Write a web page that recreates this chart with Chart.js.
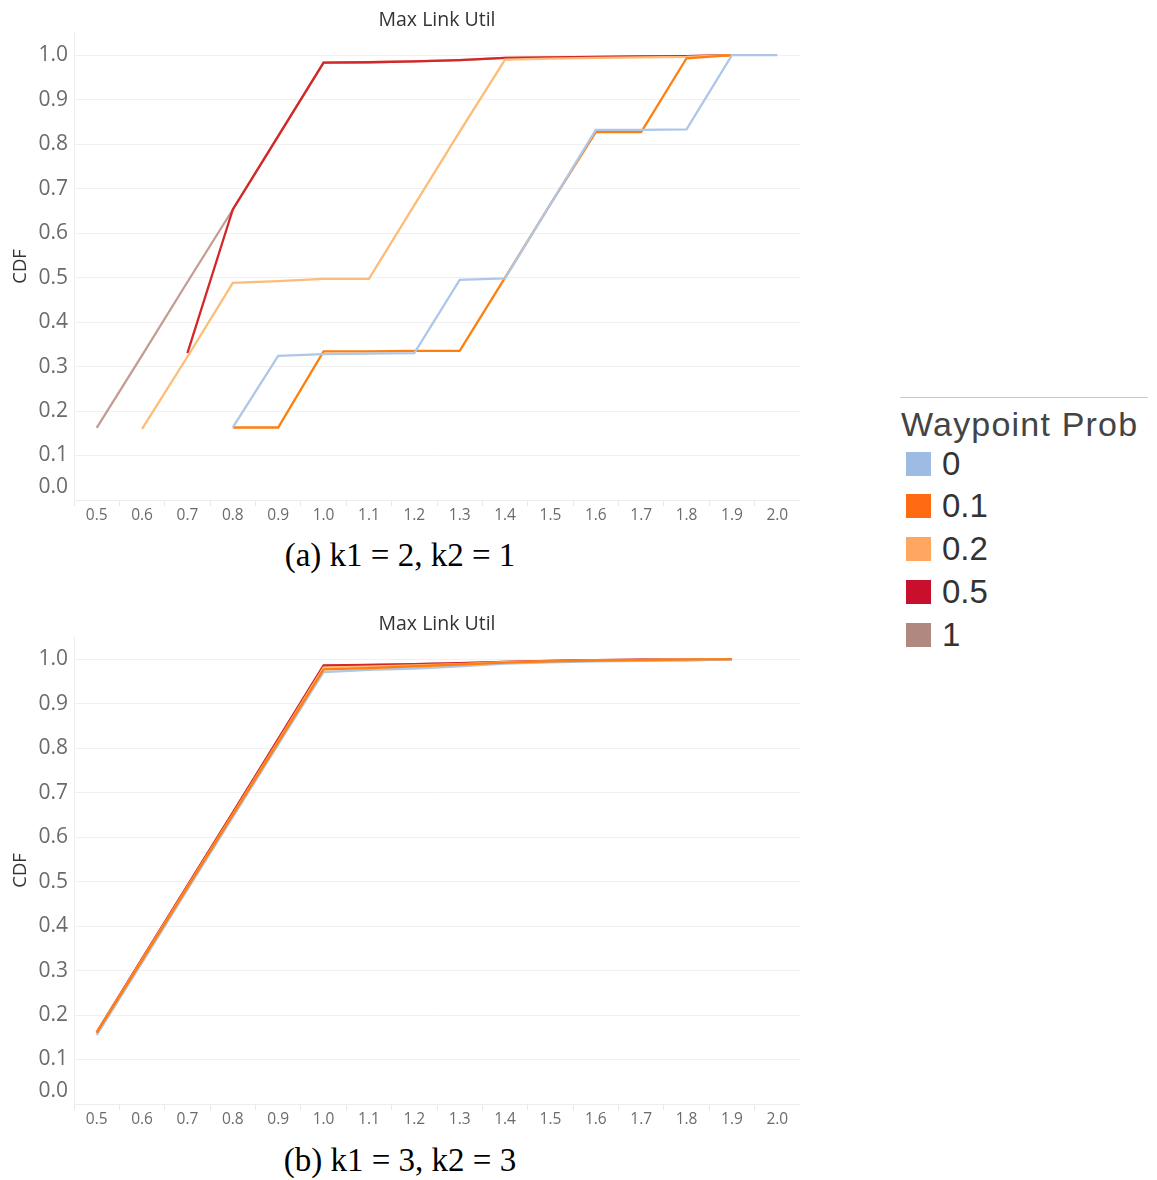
<!DOCTYPE html>
<html>
  <head>
    <meta charset="UTF-8" />
    <title>Max Link Util CDF</title>
    <style>
      body { margin: 0; background: #fff; width: 1157px; height: 1180px; position: relative; overflow: hidden; }
      canvas { position: absolute; left: 0; }
      .caption { position: absolute; left: 0; width: 800px; text-align: center; font-family: "Liberation Serif", serif; font-size: 33px; line-height: 38px; color: #000; }
      #legend { position: absolute; left: 0; top: 0; font-family: "Liberation Sans", Arial, sans-serif; color: #333; }
      #legend .rule { position: absolute; left: 900px; top: 397px; width: 248px; height: 1px; background: #c8c8c8; }
      #legend .ltitle { position: absolute; left: 901px; top: 404px; font-size: 34px; line-height: 40px; letter-spacing: 1.2px; color: #444; white-space: nowrap; }
      #legend .litem { position: absolute; left: 906px; height: 43px; display: flex; align-items: center; font-size: 33px; white-space: nowrap; }
      #legend .sw { width: 25px; height: 24px; margin-right: 11px; }
    </style>
  </head>
  <body>
    <canvas id="chartA" width="800" height="530" style="top:0px"></canvas>
    <div class="caption" style="top:536px">(a) k1 = 2, k2 = 1</div>
    <canvas id="chartB" width="800" height="530" style="top:604px"></canvas>
    <div class="caption" style="top:1141px">(b) k1 = 3, k2 = 3</div>
    <div id="legend"></div>

    <script src="https://cdn.jsdelivr.net/npm/chart.js@4.4.1/dist/chart.umd.min.js"></script>
    <script>
      // x categories (max link utilisation) and y ticks
      const xLabels = ["0.5", "0.6", "0.7", "0.8", "0.9", "1.0", "1.1", "1.2", "1.3", "1.4", "1.5", "1.6", "1.7", "1.8", "1.9", "2.0"];
      const yTicks = [0, 0.1, 0.2, 0.3, 0.4, 0.5, 0.6, 0.7, 0.8, 0.9, 1.0];

      const probs = ["0", "0.1", "0.2", "0.5", "1"];
      const lineColors = ["#aec7e8", "#ff7f0e", "#ffbb78", "#d62728", "#c49c94"];
      const legendColors = ["#9dbbe3", "#ff6a13", "#ffa760", "#c8102e", "#b08880"];

      // (a) k1 = 2, k2 = 1
      const cdfA_p0  = [null, null, null, 0.163, 0.324, 0.328, 0.329, 0.330, 0.495, 0.498, 0.665, 0.832, 0.832, 0.833, 1.0, 1.0];
      const cdfA_p01 = [null, null, null, 0.163, 0.163, 0.334, 0.334, 0.335, 0.335, 0.500, 0.665, 0.827, 0.827, 0.993, 1.0, null];
      const cdfA_p02 = [null, 0.160, 0.322, 0.488, 0.492, 0.497, 0.497, 0.663, 0.828, 0.990, 0.992, 0.994, 0.995, 0.996, 1.0, null];
      const cdfA_p05 = [null, null, 0.330, 0.653, 0.818, 0.983, 0.984, 0.986, 0.989, 0.994, 0.995, 0.996, 0.997, 0.998, 1.0, null];
      const cdfA_p1  = [0.162, 0.325, 0.490, 0.653, 0.818, 0.983, 0.984, 0.986, 0.989, 0.994, 0.995, 0.996, 0.997, 0.998, 1.0, null];

      // (b) k1 = 3, k2 = 3
      const cdfB_p0  = [0.155, 0.318, 0.482, 0.645, 0.808, 0.971, 0.976, 0.979, 0.984, 0.990, 0.993, 0.995, 0.996, 0.997, 1.0, null];
      const cdfB_p01 = [0.160, 0.323, 0.487, 0.650, 0.813, 0.977, 0.980, 0.984, 0.988, 0.992, 0.995, 0.997, 0.998, 0.999, 1.0, null];
      const cdfB_p02 = [0.160, 0.324, 0.488, 0.651, 0.815, 0.981, 0.983, 0.986, 0.989, 0.993, 0.995, 0.997, 0.998, 0.999, 1.0, null];
      const cdfB_p05 = [0.161, 0.326, 0.491, 0.655, 0.820, 0.986, 0.987, 0.989, 0.991, 0.994, 0.996, 0.998, 0.999, 0.999, 1.0, null];
      const cdfB_p1  = [0.161, 0.326, 0.491, 0.655, 0.820, 0.985, 0.987, 0.989, 0.991, 0.994, 0.996, 0.998, 0.999, 0.999, 1.0, null];

      const tickGrey = "#6b6b6b";

      // tableau keeps the bottom "0.0" label inside the plot, so draw it ourselves
      const zeroLabel = {
        id: "zeroLabel",
        afterDraw(chart) {
          const ys = chart.scales.y;
          const ctx = chart.ctx;
          ctx.save();
          ctx.font = '21px "Open Sans"';
          ctx.fillStyle = tickGrey;
          ctx.textAlign = "right";
          ctx.textBaseline = "middle";
          ctx.fillText(yTicks[0].toFixed(1), ys.right - 6, Math.min(ys.getPixelForValue(yTicks[0]), chart.chartArea.bottom - 12.5));
          ctx.restore();
        }
      };

      function makeChart(id, series, orders) {
        const ctx = document.getElementById(id).getContext("2d");
        return new Chart(ctx, {
          type: "line",
          data: {
            labels: xLabels,
            datasets: series.map((d, i) => ({
              label: probs[i],
              data: d,
              borderColor: lineColors[i],
              backgroundColor: lineColors[i],
              borderWidth: 2.3,
              pointRadius: 0,
              tension: 0,
              spanGaps: false,
              order: orders[i]
            }))
          },
          options: {
            responsive: false,
            animation: false,
            layout: { padding: 0 },
            plugins: {
              legend: { display: false },
              tooltip: { enabled: false },
              title: {
                display: true,
                text: "Max Link Util",
                fullSize: false,
                color: "#333",
                font: { family: "Open Sans", size: 19.5, weight: "normal" },
                padding: { top: 9, bottom: 0.5 }
              }
            },
            scales: {
              x: {
                type: "category",
                offset: true,
                grid: { drawOnChartArea: false, offset: true, tickLength: 6, color: "#e8e8e8" },
                border: { color: "#ececec" },
                ticks: { color: tickGrey, font: { family: "Open Sans", size: 15.5 }, padding: 0, maxRotation: 0, autoSkip: false },
                afterFit: (s) => { s.height = 30; }
              },
              y: {
                min: 0,
                max: 1.05,
                afterBuildTicks: (s) => { s.ticks = yTicks.map((v) => ({ value: v })); },
                afterFit: (s) => { s.width = 74; },
                grid: { color: "#f0f0f0", drawTicks: false },
                border: { color: "#efefef" },
                ticks: {
                  padding: 6,
                  font: { family: "Open Sans", size: 21 },
                  color: (c) => (c.tick && c.tick.value === 0 ? "rgba(0,0,0,0)" : tickGrey),
                  callback: (v) => Number(v).toFixed(1)
                },
                title: {
                  display: true,
                  text: "CDF",
                  color: "#333",
                  font: { family: "Open Sans", size: 18.5 },
                  padding: { top: 10, bottom: 0 }
                }
              }
            }
          },
          plugins: [zeroLabel]
        });
      }

      makeChart("chartA", [cdfA_p0, cdfA_p01, cdfA_p02, cdfA_p05, cdfA_p1], [0, 1, 2, 3, 4]);
      makeChart("chartB", [cdfB_p0, cdfB_p01, cdfB_p02, cdfB_p05, cdfB_p1], [1, 0, 2, 3, 4]);

      // shared legend
      const legend = document.getElementById("legend");
      legend.innerHTML = '<div class="rule"></div><div class="ltitle">Waypoint Prob</div>';
      probs.forEach((p, i) => {
        const item = document.createElement("div");
        item.className = "litem";
        item.style.top = (442 + i * 42.75) + "px";
        item.innerHTML = '<div class="sw" style="background:' + legendColors[i] + '"></div><span>' + p + "</span>";
        legend.appendChild(item);
      });
    </script>
  </body>
</html>
